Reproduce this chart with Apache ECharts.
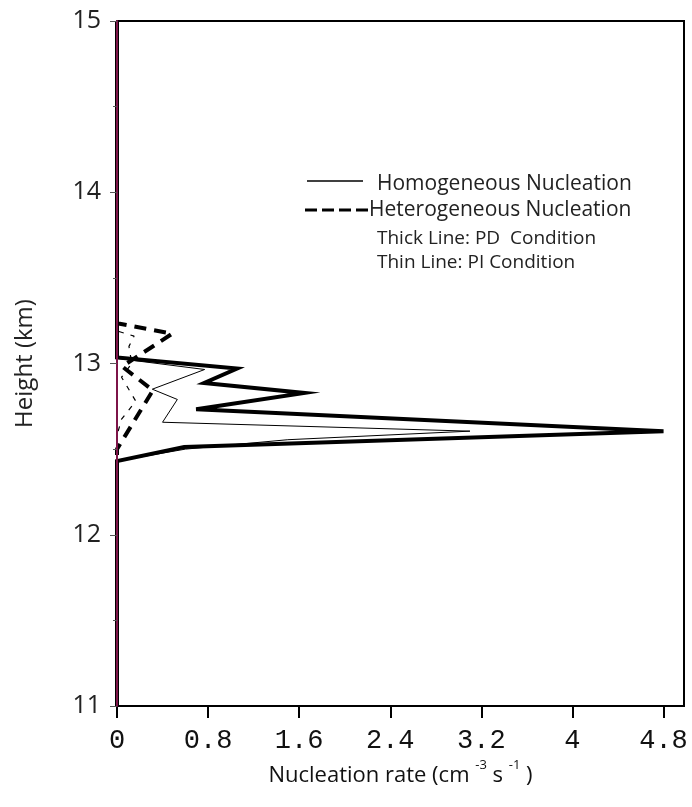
<!DOCTYPE html>
<html>
<head>
<meta charset="utf-8">
<script src="https://cdn.jsdelivr.net/npm/echarts@6/dist/echarts.min.js"></script>
<style>
html,body{margin:0;padding:0;background:#fff;}
#chart{width:692px;height:807px;}
</style>
</head>
<body>
<div id="chart"></div>
<script>
// ---- data (x = nucleation rate, y = height km) ----
var xTicks = [0, 0.8, 1.6, 2.4, 3.2, 4, 4.8];
var yTicks = [11, 12, 13, 14, 15];

// Homogeneous, PD condition (thick solid)
var homoPD_x = [0, 0, 1.055, 0.765, 1.645, 0.695, 4.80, 0.59, 0, 0];
var homoPD_y = [15, 13.035, 12.971, 12.886, 12.828, 12.733, 12.605, 12.512, 12.43, 11];

// Homogeneous, PI condition (thin solid)
var homoPI_x = [0, 0, 0.77, 0.31, 0.53, 0.40, 3.10, 1.5, 0.6, 0, 0];
var homoPI_y = [15, 13.03, 12.965, 12.85, 12.79, 12.657, 12.605, 12.555, 12.50, 12.43, 11];

// Heterogeneous, PD condition (thick dashed)
var hetPD_x = [0, 0, 0.485, 0.045, 0.315, 0, 0];
var hetPD_y = [15, 13.235, 13.174, 12.983, 12.843, 12.50, 11];

// Heterogeneous, PI condition (thin dashed)
var hetPI_x = [0, 0, 0.15, 0.105, 0.13, 0.04, 0.165, 0.04, 0, 0];
var hetPI_y = [15, 13.19, 13.16, 13.10, 13.0, 12.92, 12.78, 12.675, 12.58, 11];

function pairs(xs, ys) {
  var out = [];
  for (var i = 0; i < xs.length; i++) out.push([xs[i], ys[i]]);
  return out;
}

var chart = echarts.init(document.getElementById('chart'), null, {renderer: 'canvas'});

var legendFont = "'Open Sans', 'Noto Sans', sans-serif";

var option = {
  backgroundColor: '#ffffff',
  animation: false,
  grid: {
    left: 117, right: 8, top: 21, bottom: 101,
    show: true, borderColor: '#000', borderWidth: 2, backgroundColor: 'transparent'
  },
  xAxis: {
    type: 'value',
    min: 0, max: 4.98,
    interval: 0.8,
    splitLine: {show: false},
    axisLine: {show: true, onZero: false, lineStyle: {color: '#000', width: 2}},
    axisTick: {show: true, length: 12, customValues: xTicks, lineStyle: {color: '#000', width: 2}},
    axisLabel: {
      customValues: xTicks,
      margin: 21,
      fontSize: 27,
      color: '#111',
      fontFamily: "'Liberation Mono', 'DejaVu Sans Mono', monospace",
      formatter: function (v) { return String(v); }
    },
    name: '{a|Nucleation rate (cm }{s|-3}{a| s }{s|-1}{a| )}',
    nameLocation: 'middle',
    nameGap: 52,
    nameTextStyle: {
      rich: {
        a: {fontSize: 22, color: '#111', fontFamily: "'Liberation Sans Narrow', 'Open Sans', sans-serif", lineHeight: 28, verticalAlign: 'bottom'},
        s: {fontSize: 13, color: '#111', fontFamily: "'Liberation Sans Narrow', 'Open Sans', sans-serif", lineHeight: 28, verticalAlign: 'top'}
      }
    }
  },
  yAxis: {
    type: 'value',
    min: 11, max: 15, interval: 1,
    z: 10,
    splitLine: {show: false},
    axisLine: {show: true, onZero: false, lineStyle: {color: '#7d1448', width: 2}},
    axisTick: {show: true, length: 7, lineStyle: {color: '#555', width: 1}},
    minorTick: {show: true, splitNumber: 2, length: 4, lineStyle: {color: '#555', width: 1}},
    axisLabel: {
      margin: 16,
      fontSize: 25,
      color: '#222',
      fontFamily: "'Open Sans', 'Noto Sans', sans-serif"
    },
    name: 'Height (km)',
    nameLocation: 'middle',
    nameGap: 80,
    nameRotate: 90,
    nameTextStyle: {fontSize: 24, color: '#222', fontFamily: "'Liberation Sans Narrow', 'Open Sans', sans-serif"}
  },
  series: [
    {
      name: 'Homogeneous PI', type: 'line', showSymbol: false, symbol: 'none',
      data: pairs(homoPI_x, homoPI_y),
      lineStyle: {color: '#000', width: 1}, z: 2
    },
    {
      name: 'Heterogeneous PI', type: 'line', showSymbol: false, symbol: 'none',
      data: pairs(hetPI_x, hetPI_y),
      lineStyle: {color: '#000', width: 1.2, type: [5, 7]}, z: 2
    },
    {
      name: 'Homogeneous PD', type: 'line', showSymbol: false, symbol: 'none',
      data: pairs(homoPD_x, homoPD_y),
      lineStyle: {color: '#000', width: 4, join: 'miter', miterLimit: 10}, z: 3
    },
    {
      name: 'Heterogeneous PD', type: 'line', showSymbol: false, symbol: 'none',
      data: pairs(hetPD_x, hetPD_y),
      lineStyle: {color: '#000', width: 4, type: [12, 8]}, z: 3
    }
  ],
  graphic: [
    {type: 'line', shape: {x1: 307, y1: 181, x2: 363, y2: 181}, style: {stroke: '#000', lineWidth: 1.5}},
    {type: 'text', left: 377, top: 174, style: {text: 'Homogeneous Nucleation', fontSize: 21, fill: '#222', fontFamily: legendFont}},
    {type: 'line', shape: {x1: 305, y1: 210, x2: 368, y2: 210}, style: {stroke: '#000', lineWidth: 3, lineDash: [12, 5]}},
    {type: 'text', left: 369, top: 200, style: {text: 'Heterogeneous Nucleation', fontSize: 21, fill: '#222', fontFamily: legendFont}},
    {type: 'text', left: 377, top: 229, style: {text: 'Thick Line: PD  Condition', fontSize: 19, fill: '#222', fontFamily: legendFont}},
    {type: 'text', left: 377, top: 253, style: {text: 'Thin Line: PI Condition', fontSize: 19, fill: '#222', fontFamily: legendFont}}
  ]
};
chart.setOption(option);
</script>
</body>
</html>
